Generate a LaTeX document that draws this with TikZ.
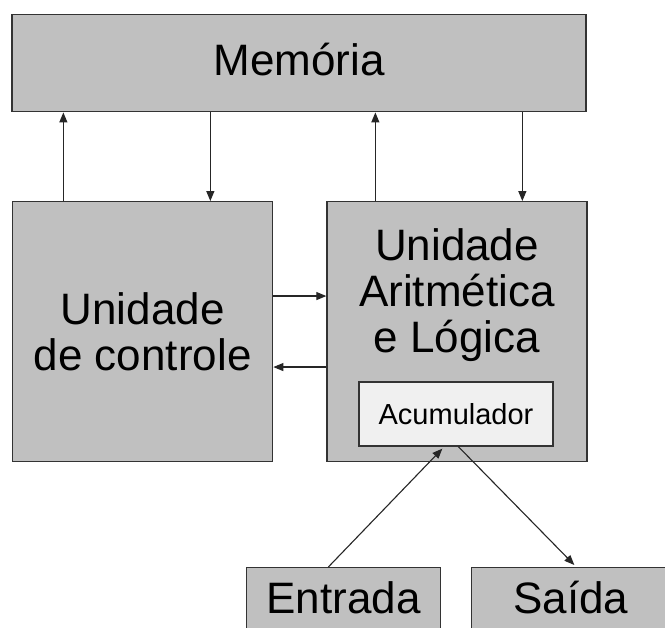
\documentclass[tikz,border=0pt]{standalone}
\usepackage{fontspec}
\setmainfont{Liberation Sans}
\definecolor{boxgray}{RGB}{192,192,192}
\definecolor{boxline}{RGB}{51,51,51}
\definecolor{accfill}{RGB}{240,240,240}
\usetikzlibrary{arrows.meta, positioning, calc}

\begin{document}
\begin{tikzpicture}[x=1pt, y=-1pt,
    unit/.style={draw=boxline, line width=1.3pt, fill=boxgray, inner sep=0pt, align=center, font=\fontsize{44}{46}\selectfont},
    flow/.style={line width=1.1pt, draw=black!85, -{Triangle[length=10pt, width=8pt]}}]
    \useasboundingbox (0,0) rectangle (665,628);
    \clip (0,0) rectangle (665,628);
    \fill[white] (0,0) rectangle (665,628);

    % Memory
    \node[unit, minimum width=574pt, minimum height=97pt, text height=30pt, text depth=6pt] (mem) at (299,63.3) {Memória};

    % Control unit and ALU
    \node[unit, minimum width=260pt, minimum height=260pt] (ctrl) at (142.7,331.7) {Unidade\\de controle};
    \node[unit, minimum width=260pt, minimum height=260pt] (ula) at (457,331.7) {};
    \node[align=center, inner sep=0pt, font=\fontsize{44}{46}\selectfont] (ulatext) at (457,295.5) {Unidade\\Aritmética\\e Lógica};
    \node[unit, fill=accfill, minimum width=194pt, minimum height=64pt, font=\fontsize{29}{32}\selectfont] (acc) at (456,414) {Acumulador};

    % Input / output
    \node[unit, anchor=north, minimum width=194pt, text height=46pt, text depth=30pt] (ent) at (343.7,567) {Entrada};
    \node[unit, anchor=north, minimum width=198pt, text height=46pt, text depth=30pt] (sai) at (570.7,567) {Saída};

    % Memory <-> units
    \coordinate (c1) at ([xshift=51.3pt]ctrl.north west);
    \coordinate (c2) at ([xshift=198.3pt]ctrl.north west);
    \coordinate (u1) at ([xshift=49pt]ula.north west);
    \coordinate (u2) at ([xshift=196pt]ula.north west);
    \draw[flow] (c1) -- (c1 |- mem.south);
    \draw[flow] (c2 |- mem.south) -- (c2);
    \draw[flow] (u1) -- (u1 |- mem.south);
    \draw[flow] (u2 |- mem.south) -- (u2);

    % Control <-> ALU
    \coordinate (h1) at ([yshift=-95pt]ctrl.north east);
    \coordinate (h2) at ([yshift=-166pt]ctrl.north east);
    \draw[flow] (h1) -- (h1 -| ula.west);
    \draw[flow] (h2 -| ula.west) -- (h2);

    % Accumulator <-> I/O
    \coordinate (e1) at ([xshift=82.3pt]ent.north west);
    \coordinate (a1) at ([xshift=84pt, yshift=-2pt]acc.south west);
    \coordinate (a2) at ([xshift=100pt]acc.south west);
    \coordinate (s1) at ([xshift=103.3pt, yshift=2pt]sai.north west);
    \draw[flow] (e1) -- (a1);
    \draw[flow] (a2) -- (s1);
\end{tikzpicture}
\end{document}
